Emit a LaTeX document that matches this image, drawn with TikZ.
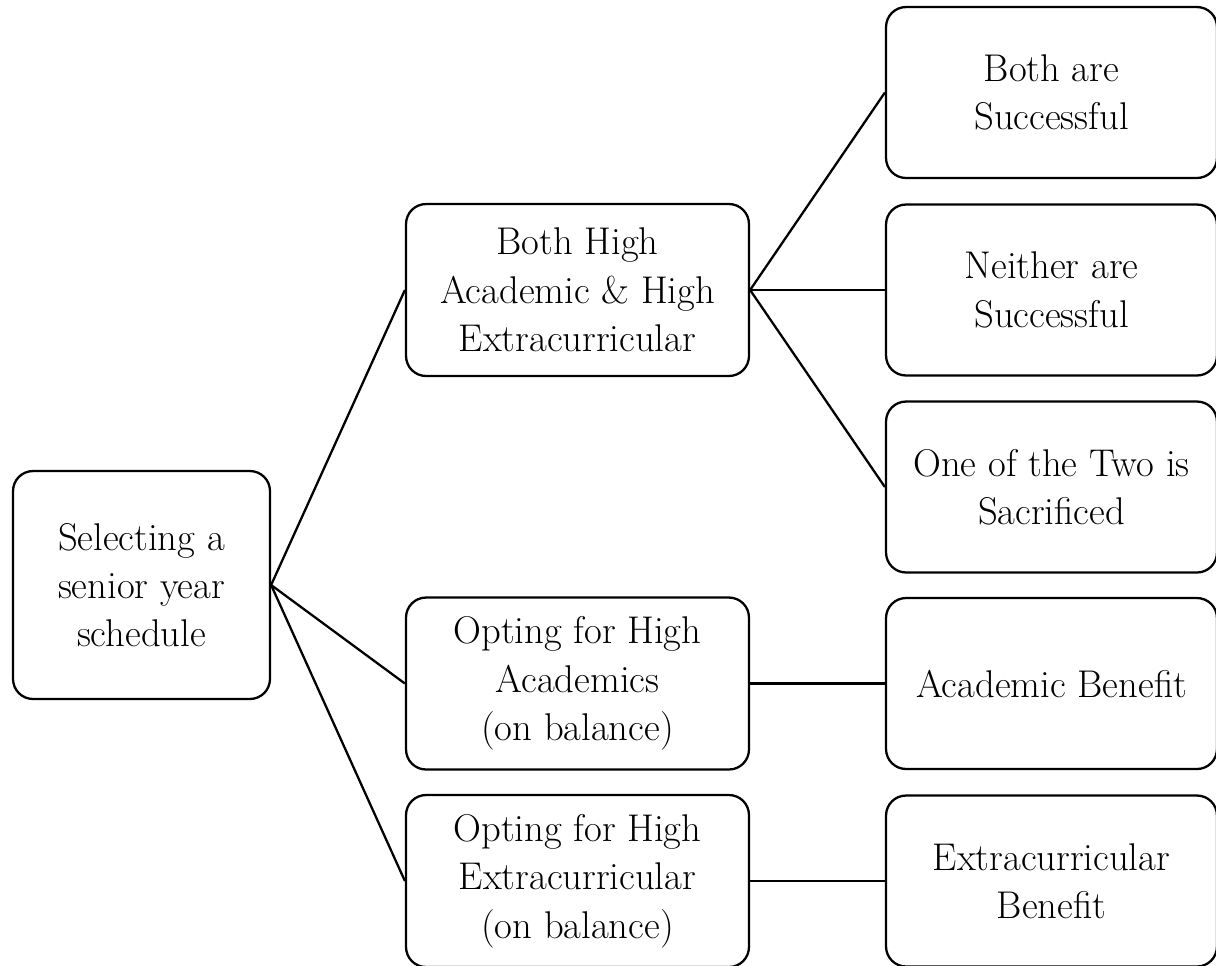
\documentclass[tikz,border=0pt]{standalone}
\usepackage{fontspec}
\begin{document}
\begin{tikzpicture}[x=0.02cm,y=-0.02cm]
\tikzset{
  box/.style={draw, rounded corners=0.4cm, line width=1.3pt, align=center, inner sep=0pt, font=\fontsize{22}{27.5}\selectfont},
  rootbox/.style={box, minimum width=5.14cm, minimum height=4.56cm},
  midbox/.style={box, minimum width=6.86cm, minimum height=3.44cm},
  leafbox/.style={box, minimum width=6.62cm, minimum height=3.42cm},
  link/.style={line width=1.3pt}
}
\useasboundingbox (0,0) rectangle (1216,965);
\node[rootbox] (root) at (141.5,585) {Selecting a\\senior year\\schedule};
\node[midbox] (m1) at (577.5,290) {Both High\\Academic \& High\\Extracurricular};
\node[midbox] (m2) at (577.5,683.5) {Opting for High\\Academics\\(on balance)};
\node[midbox] (m3) at (577.5,881) {Opting for High\\Extracurricular\\(on balance)};
\node[leafbox] (r1) at (1051.5,92.5) {Both are\\Successful};
\node[leafbox] (r2) at (1051.5,290) {Neither are\\Successful};
\node[leafbox] (r3) at (1051.5,487) {One of the Two is\\Sacrificed};
\node[leafbox] (r4) at (1051.5,683.5) {Academic Benefit};
\node[leafbox] (r5) at (1051.5,881) {Extracurricular\\Benefit};
\draw[link] (root.east) -- (m1.west);
\draw[link] (root.east) -- (m2.west);
\draw[link] (root.east) -- (m3.west);
\draw[link] (m1.east) -- (r1.west);
\draw[link] (m1.east) -- (r2.west);
\draw[link] (m1.east) -- (r3.west);
\draw[link] (m2.east) -- (r4.west);
\draw[link] (m3.east) -- (r5.west);
\end{tikzpicture}
\end{document}
